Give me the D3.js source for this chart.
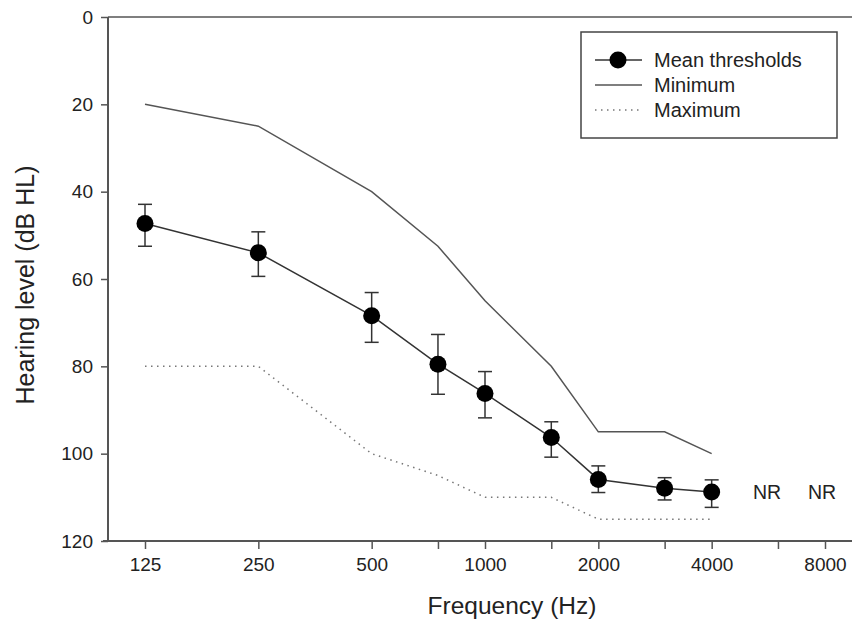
<!DOCTYPE html>
<html>
<head>
<meta charset="utf-8">
<script src="https://cdn.jsdelivr.net/npm/d3@7"></script>
<style>
  body { margin: 0; background: #fff; }
  text { font-family: "Liberation Sans", Arial, sans-serif; fill: #222; }
</style>
</head>
<body>
<div id="chart"></div>
<script>
// audiogram values
var freqs = [125, 250, 500, 750, 1000, 1500, 2000, 3000, 4000];
var meanThresholds = [47.3, 54, 68.4, 79.5, 86.2, 96.3, 105.9, 107.9, 108.8];
var errTop = [42.9, 49.2, 63.1, 72.7, 81.2, 92.7, 102.8, 105.5, 106];
var errBottom = [52.5, 59.4, 74.5, 86.4, 91.8, 100.8, 108.9, 110.6, 112.3];
var minimum = [20, 25, 40, 52.5, 65, 80, 95, 95, 100];
var maximum = [80, 80, 100, 105, 110, 110, 115, 115, 115];
var xTicks = [125, 250, 500, 750, 1000, 1500, 2000, 3000, 4000, 6000, 8000];
var xTickLabels = ["125", "250", "500", "", "1000", "", "2000", "", "4000", "", "8000"];
var yTicks = [0, 20, 40, 60, 80, 100, 120];
var nrFreqs = [6000, 8000];
var legendLabels = ["Mean thresholds", "Minimum", "Maximum"];

var width = 852, height = 629;
var axisLeftX = 108, axisRightX = 852;
var axisColor = "#555";
var lineColor = "#333";

var svg = d3.select("#chart").append("svg")
    .attr("width", width)
    .attr("height", height);

var x = d3.scaleLog().base(2)
    .domain([125, 8000])
    .range([145, 825]);

var y = d3.scaleLinear()
    .domain([0, 120])
    .range([17, 541]);

// frame lines (left, top, bottom)
svg.append("line")
    .attr("x1", axisLeftX).attr("x2", axisLeftX)
    .attr("y1", y(0)).attr("y2", y(120))
    .attr("stroke", axisColor).attr("stroke-width", 2);
svg.append("line")
    .attr("x1", axisLeftX).attr("x2", axisRightX)
    .attr("y1", y(0)).attr("y2", y(0))
    .attr("stroke", axisColor).attr("stroke-width", 1.5);
svg.append("line")
    .attr("x1", axisLeftX - 5).attr("x2", axisRightX)
    .attr("y1", y(120)).attr("y2", y(120))
    .attr("stroke", axisColor).attr("stroke-width", 2);

// y axis
var yAxis = svg.append("g")
    .attr("transform", "translate(" + axisLeftX + ",0)")
    .call(d3.axisLeft(y).tickValues(yTicks).tickSize(7).tickPadding(8));
yAxis.select(".domain").remove();
yAxis.selectAll("line").attr("stroke", axisColor).attr("stroke-width", 1.5);
yAxis.selectAll("text").style("font-size", "19px").attr("fill", "#222");

// x axis
var xAxis = svg.append("g")
    .attr("transform", "translate(0," + y(120) + ")")
    .call(d3.axisBottom(x).tickValues(xTicks)
        .tickFormat(function (d, i) { return xTickLabels[i]; })
        .tickSize(8).tickPadding(9));
xAxis.select(".domain").remove();
xAxis.selectAll("line").attr("stroke", axisColor).attr("stroke-width", 1.5);
xAxis.selectAll("text").style("font-size", "19px").attr("fill", "#222");

// axis titles
svg.append("text")
    .attr("transform", "translate(34," + 285 + ")rotate(-90)")
    .attr("text-anchor", "middle")
    .style("font-size", "25px")
    .text("Hearing level (dB HL)");

svg.append("text")
    .attr("x", 512)
    .attr("y", 614)
    .attr("text-anchor", "middle")
    .style("font-size", "24.5px")
    .text("Frequency (Hz)");

var line = d3.line()
    .x(function (d) { return x(d[0]); })
    .y(function (d) { return y(d[1]); });

// maximum (dotted)
svg.append("path")
    .datum(d3.zip(freqs, maximum))
    .attr("d", line)
    .attr("fill", "none")
    .attr("stroke", "#777")
    .attr("stroke-width", 1.5)
    .attr("stroke-dasharray", "1.5,4.5");

// minimum (solid)
svg.append("path")
    .datum(d3.zip(freqs, minimum))
    .attr("d", line)
    .attr("fill", "none")
    .attr("stroke", "#555")
    .attr("stroke-width", 1.5);

// mean thresholds
svg.append("path")
    .datum(d3.zip(freqs, meanThresholds))
    .attr("d", line)
    .attr("fill", "none")
    .attr("stroke", lineColor)
    .attr("stroke-width", 1.5);

var meanData = freqs.map(function (f, i) {
  return { f: f, v: meanThresholds[i], top: errTop[i], bottom: errBottom[i] };
});

var bars = svg.append("g").selectAll("g")
    .data(meanData)
    .enter().append("g")
    .attr("stroke", lineColor)
    .attr("stroke-width", 1.5);
bars.append("line")
    .attr("x1", function (d) { return x(d.f); })
    .attr("x2", function (d) { return x(d.f); })
    .attr("y1", function (d) { return y(d.top); })
    .attr("y2", function (d) { return y(d.bottom); });
bars.append("line")
    .attr("x1", function (d) { return x(d.f) - 7; })
    .attr("x2", function (d) { return x(d.f) + 7; })
    .attr("y1", function (d) { return y(d.top); })
    .attr("y2", function (d) { return y(d.top); });
bars.append("line")
    .attr("x1", function (d) { return x(d.f) - 7; })
    .attr("x2", function (d) { return x(d.f) + 7; })
    .attr("y1", function (d) { return y(d.bottom); })
    .attr("y2", function (d) { return y(d.bottom); });

svg.append("g").selectAll("circle")
    .data(meanData)
    .enter().append("circle")
    .attr("cx", function (d) { return x(d.f); })
    .attr("cy", function (d) { return y(d.v); })
    .attr("r", 8.5)
    .attr("fill", "#000");

// NR labels beyond 4000 Hz
var nrShift = [-11, -3];
svg.append("g").selectAll("text")
    .data(nrFreqs)
    .enter().append("text")
    .attr("x", function (d, i) { return x(d) + nrShift[i]; })
    .attr("y", y(meanThresholds[meanThresholds.length - 1]))
    .attr("dy", "0.36em")
    .attr("text-anchor", "middle")
    .style("font-size", "19.5px")
    .text("NR");

// legend
var legend = svg.append("g").attr("transform", "translate(581,32)");
legend.append("rect")
    .attr("width", 256).attr("height", 106)
    .attr("fill", "#fff")
    .attr("stroke", "#444").attr("stroke-width", 1.5);

var legendStyles = [
  { stroke: lineColor, dash: null, marker: true },
  { stroke: "#555", dash: null, marker: false },
  { stroke: "#777", dash: "1.5,4.5", marker: false }
];

legendLabels.forEach(function (label, i) {
  var row = legend.append("g").attr("transform", "translate(0," + (28 + i * 25) + ")");
  row.append("line")
      .attr("x1", 14).attr("x2", 61)
      .attr("stroke", legendStyles[i].stroke)
      .attr("stroke-width", 1.5)
      .attr("stroke-dasharray", legendStyles[i].dash);
  if (legendStyles[i].marker) {
    row.append("circle").attr("cx", 37).attr("r", 8.5).attr("fill", "#000");
  }
  row.append("text")
      .attr("x", 73)
      .attr("dy", "0.36em")
      .style("font-size", "20px")
      .text(label);
});
</script>
</body>
</html>
